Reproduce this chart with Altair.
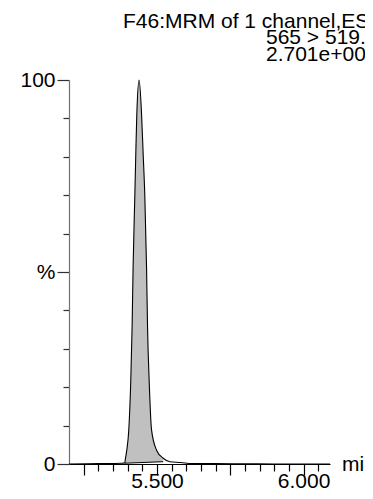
import altair as alt
import pandas as pd

# chromatogram trace (retention time in min, relative intensity in %)
time_min = [5.200, 5.300, 5.380, 5.3902, 5.3926, 5.3971, 5.4039, 5.4107, 5.4152,
            5.4186, 5.4244, 5.4278, 5.4313, 5.4391, 5.4473, 5.4528, 5.4586,
            5.4644, 5.4678, 5.4733, 5.4815, 5.4986, 5.5212, 5.5441, 5.580,
            5.620, 5.700, 5.800, 5.900, 6.000, 6.090]
intensity_pct = [0.0, 0.1, 0.2, 0.3, 1.5, 3.6, 8.9, 21.9, 35.8,
                 51.4, 69.6, 80.9, 91.3, 100.0, 91.3, 80.9, 69.6,
                 51.4, 35.8, 21.9, 8.9, 3.6, 1.5, 0.6, 0.4,
                 0.1, 0.1, 0.05, 0.0, 0.0, 0.0]

# integrated peak region
fill_time = [5.3902, 5.3926, 5.3971, 5.4039, 5.4107, 5.4152, 5.4186, 5.4244,
             5.4278, 5.4313, 5.4391, 5.4473, 5.4528, 5.4586, 5.4644, 5.4678,
             5.4733, 5.4815, 5.4986, 5.5212]
fill_top = [0.3, 1.5, 3.6, 8.9, 21.9, 35.8, 51.4, 69.6,
            80.9, 91.3, 100.0, 91.3, 80.9, 69.6, 51.4, 35.8,
            21.9, 8.9, 3.6, 1.5]
fill_base = [0.20, 0.20, 0.21, 0.23, 0.26, 0.27, 0.28, 0.30,
             0.31, 0.32, 0.35, 0.37, 0.39, 0.41, 0.43, 0.44,
             0.45, 0.48, 0.53, 0.60]

header_lines = ["F46:MRM of 1 channel,ES+", "565 > 519.8", "2.701e+005"]
x_unit = "min"
x_ticks = [5.25, 5.30, 5.35, 5.40, 5.45, 5.50, 5.55, 5.60, 5.65, 5.70,
           5.75, 5.80, 5.85, 5.90, 5.95, 6.00, 6.05]
y_ticks = [0, 10, 20, 30, 40, 50, 60, 70, 80, 90, 100]
x_domain = [5.2, 6.09]
y_domain = [0, 100]

FONT = "Liberation Sans"
FS = 21

trace = pd.DataFrame({"t": time_min, "v": intensity_pct})
fill = pd.DataFrame({"t": fill_time, "top": fill_top, "base": fill_base})
base_line = pd.DataFrame({"t": [fill_time[0]], "t2": [fill_time[-1]],
                          "b": [fill_base[0]], "b2": [fill_base[-1]]})

x_scale = alt.Scale(domain=x_domain, nice=False, zero=False)
y_scale = alt.Scale(domain=y_domain, nice=False, zero=True)

x_axis = alt.Axis(
    values=x_ticks,
    labelExpr="abs(datum.value-5.5)<1e-6 ? '5.500' : (abs(datum.value-6)<1e-6 ? '6.000' : '')",
    tickSize={"condition": {"test": "abs(datum.value*4 - round(datum.value*4)) < 1e-6", "value": 11}, "value": 7},
    labelFont=FONT, labelFontSize=FS, labelColor="#000000",
    labelPadding=-5, labelOverlap=False, labelFlush=False,
    domainColor="#000000", tickColor="#000000", domainWidth=1.2, tickWidth=1.2,
    grid=False, title=None,
)
y_axis = alt.Axis(
    values=y_ticks,
    labelExpr="datum.value==100 ? '100' : (datum.value==50 ? '%' : (datum.value==0 ? '0' : ''))",
    tickSize={"condition": {"test": "datum.value % 50 == 0", "value": 12}, "value": 6},
    labelFont=FONT, labelFontSize=FS, labelColor="#000000",
    labelPadding=2, labelOverlap=False, labelFlush=False,
    domainColor="#707070", tickColor="#303030", domainWidth=1.2, tickWidth=1.2,
    grid=False, title=None,
)

X = lambda f: alt.X(f, scale=x_scale, axis=x_axis)
Y = lambda f: alt.Y(f, scale=y_scale, axis=y_axis)

area = alt.Chart(fill).mark_area(color="#c0c0c0", opacity=1, interpolate="monotone").encode(
    x=X("t:Q"), y=Y("top:Q"), y2="base:Q",
)
line = alt.Chart(trace).mark_line(color="#000000", strokeWidth=1.1, interpolate="monotone").encode(
    x=X("t:Q"), y=Y("v:Q"),
)
rule = alt.Chart(base_line).mark_rule(color="#000000", strokeWidth=1).encode(
    x=X("t:Q"), x2="t2:Q", y=Y("b:Q"), y2="b2:Q",
)

def label(txt, px, py, baseline="alphabetic"):
    return alt.Chart(pd.DataFrame({"s": [txt]})).mark_text(
        font=FONT, fontSize=FS, color="#000000", align="left", baseline=baseline
    ).encode(text="s:N", x=alt.value(px), y=alt.value(py))

t1 = label(header_lines[0], 54, -52.5)
t2 = label(header_lines[1], 197, -36)
t3 = label(header_lines[2], 197, -19.5)
tmin = label(x_unit, 273, 385, baseline="middle")

chart = alt.layer(area, line, rule, t1, t2, t3, tmin).properties(
    width=261, height=384,
    autosize=alt.AutoSizeParams(type="none"),
    padding={"left": 61, "top": 72, "right": 35, "bottom": 27},
    background="#ffffff",
).configure_view(stroke=None)

chart.save("out.html", embed_options={"renderer": "svg", "actions": False})
